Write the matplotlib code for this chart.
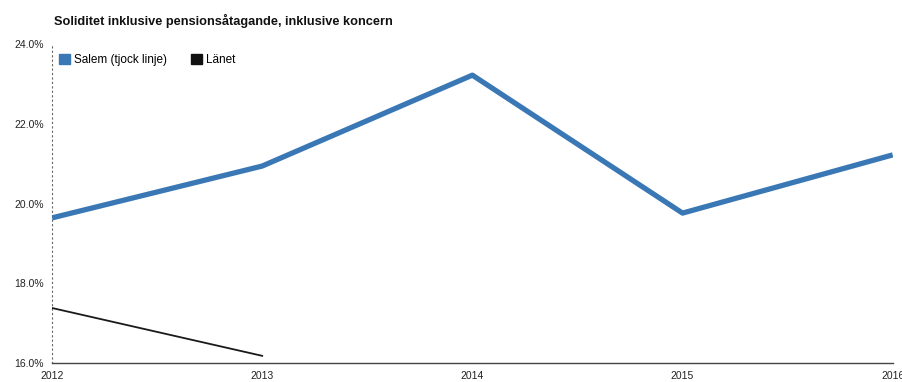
import matplotlib
matplotlib.use("Agg")
import matplotlib.pyplot as plt
from matplotlib.patches import Patch
from matplotlib.ticker import FuncFormatter

years = [2012, 2013, 2014, 2015, 2016]
salem = [19.64, 20.94, 23.22, 19.76, 21.22]
lanet_years = [2012, 2013]
lanet = [17.38, 16.18]
yticks = [16, 18, 20, 22, 24]

plt.rcParams['font.family'] = ['Liberation Sans', 'DejaVu Sans']

fig = plt.figure(figsize=(9.03, 3.82), dpi=100)
ax = fig.add_axes([0.0576, 0.0497, 0.931, 0.835])

ax.plot(years, salem, color='#3a78b5', lw=3.8, solid_capstyle='butt', zorder=3)
ax.plot(lanet_years, lanet, color='#1a1a1a', lw=1.3, zorder=3)

ax.set_xlim(2012, 2016)
ax.set_ylim(16, 24)
ax.set_yticks(yticks)
ax.yaxis.set_major_formatter(FuncFormatter(lambda v, p: f"{v:.1f}%"))
ax.set_xticks(years)
ax.set_xticklabels([str(y) for y in years])

for s in ['top', 'right']:
    ax.spines[s].set_visible(False)
ax.spines['left'].set_linestyle((0, (1, 3)))
ax.spines['left'].set_color('#666666')
ax.spines['left'].set_linewidth(0.8)
ax.spines['bottom'].set_color('#444444')
ax.spines['bottom'].set_linewidth(1.0)
ax.tick_params(axis='both', length=0, labelsize=7.5, colors='#222222')
ax.tick_params(axis='x', pad=6)
ax.tick_params(axis='y', pad=6)

handles = [Patch(facecolor='#3a78b5', edgecolor='#3a78b5', label='Salem (tjock linje)'),
           Patch(facecolor='#111111', edgecolor='#111111', label='Länet')]
ax.legend(handles=handles, loc='upper left', bbox_to_anchor=(0.0, 0.99), ncol=2,
          frameon=False, fontsize=8.5, handlelength=0.9, handleheight=0.9,
          handletextpad=0.4, columnspacing=2.0, borderaxespad=0.2)

fig.text(0.06, 0.945, "Soliditet inklusive pensionsåtagande, inklusive koncern",
         fontsize=9.2, fontweight='bold', ha='left', va='center', color='#111111')

fig.savefig("out.png", dpi=100)
